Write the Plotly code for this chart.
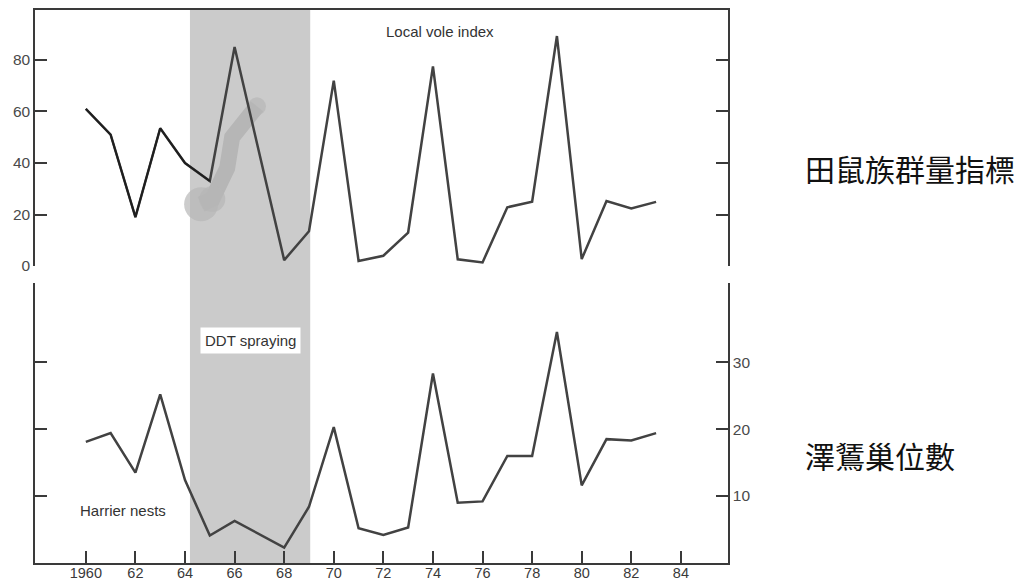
import plotly.graph_objects as go

years = list(range(1960, 1984))
vole_index = [61, 51, 19, 53.5, 40, 33, 85, 44, 2.3, 13.5, 72, 2, 4, 13, 77.5, 2.6, 1.4, 22.8, 25, 89.3, 2.7, 25.2, 22.4, 24.9]
harrier_nests = [18.1, 19.4, 13.5, 25.2, 12.4, 4.1, 6.3, 4.3, 2.3, 8.4, 20.3, 5.2, 4.2, 5.3, 28.3, 9.0, 9.2, 16.0, 16.0, 34.5, 11.6, 18.5, 18.3, 19.4]

# scanner smudge in the original (grey blob in the top panel)
blob_x = [1964.65, 1965.1, 1965.7, 1965.9, 1966.4, 1966.9]
blob_y = [24, 26, 38, 50, 56, 62]
blob_size = [34, 26, 0, 0, 0, 18]

ddt_start, ddt_end = 1964.2, 1969.05
x_ticks = list(range(1960, 1986, 2))
x_ticklabels = ["1960"] + [str(y % 100) for y in x_ticks[1:]]
vole_ticks = [0, 20, 40, 60, 80]
nest_ticks = [10, 20, 30]

LINE = "#424242"
AX = "#3a3a3a"
FONT = "Liberation Sans, Arial, sans-serif"
BLOB = "#b6b6b6"

fig = go.Figure()

fig.add_trace(go.Scatter(x=blob_x, y=blob_y, xaxis="x2", yaxis="y2", mode="lines+markers",
                         line=dict(color=BLOB, width=16),
                         marker=dict(color=BLOB, size=blob_size, line=dict(width=0)),
                         hoverinfo="skip", showlegend=False))
fig.add_trace(go.Scatter(x=years, y=vole_index, xaxis="x2", yaxis="y2", mode="lines",
                         line=dict(color=LINE, width=2.5), showlegend=False))
fig.add_trace(go.Scatter(x=years[:6], y=vole_index[:6], xaxis="x2", yaxis="y2", mode="lines",
                         line=dict(color="#1e1e1e", width=2), showlegend=False))
fig.add_trace(go.Scatter(x=years, y=harrier_nests, xaxis="x", yaxis="y", mode="lines",
                         line=dict(color=LINE, width=2.5), showlegend=False))

fig.add_shape(type="rect", xref="x", yref="paper", x0=ddt_start, x1=ddt_end, y0=0, y1=1,
              fillcolor="#cbcbcb", line=dict(width=0), layer="below")

xr = [1957.95, 1985.9]
# the page body has an 8px margin, so the figure is 8px smaller and the margins shifted
fig.update_layout(
    width=1019, height=575,
    margin=dict(l=27, r=299, t=2, b=20, autoexpand=False),
    paper_bgcolor="white", plot_bgcolor="rgba(0,0,0,0)",
    font=dict(family=FONT, size=15, color="#444444"),
    xaxis=dict(range=xr, tickvals=x_ticks, ticktext=x_ticklabels, ticks="inside", ticklen=12,
               tickcolor=AX, tickwidth=1.5, showline=True, linecolor=AX, linewidth=1.5,
               showgrid=False, zeroline=False, anchor="y", automargin=False,
               ticklabelstandoff=-4, tickfont=dict(size=14.5, color="#3a3a3a")),
    xaxis2=dict(range=xr, side="top", showticklabels=False, ticks="",
                showline=True, linecolor=AX, linewidth=1.5, showgrid=False, zeroline=False,
                anchor="y2", automargin=False),
    yaxis=dict(domain=[0, 0.506], range=[0, 41.8], side="right", tickvals=nest_ticks,
               ticks="inside", ticklen=12, tickcolor=AX, tickwidth=1.5, showline=True,
               linecolor=AX, linewidth=1.5, mirror="ticks", showgrid=False, zeroline=False,
               anchor="x", automargin=False, tickfont=dict(size=15.5, color="#4a4a4a")),
    yaxis2=dict(domain=[0.537, 1], range=[0, 99.4], side="left", tickvals=vole_ticks,
                ticks="inside", ticklen=12, tickcolor=AX, tickwidth=1.5, showline=True,
                linecolor=AX, linewidth=1.5, mirror="ticks", showgrid=False, zeroline=False,
                anchor="x2", automargin=False, tickfont=dict(size=15.5, color="#4a4a4a")),
)

ANN = dict(size=15, color="#333333", family=FONT)
fig.add_annotation(x=1974.3, y=90.9, xref="x2", yref="y2", text="Local vole index",
                   showarrow=False, font=ANN)
fig.add_annotation(x=1966.65, y=33.3, xref="x", yref="y", text="DDT spraying",
                   showarrow=False, bgcolor="white", borderpad=4, font=ANN)
fig.add_annotation(x=1961.5, y=7.9, xref="x", yref="y", text="Harrier nests",
                   showarrow=False, font=ANN)

CJK = "Noto Sans CJK TC"
fig.add_annotation(x=1.108, y=0.714, xref="paper", yref="paper", xanchor="left", yanchor="middle",
                   text="田鼠族群量指標", showarrow=False,
                   font=dict(family=CJK, size=30, color="#111111"))
fig.add_annotation(x=1.108, y=0.195, xref="paper", yref="paper", xanchor="left", yanchor="middle",
                   text="澤鵟巢位數", showarrow=False,
                   font=dict(family=CJK, size=30, color="#111111"))

fig.write_html("out.html")
